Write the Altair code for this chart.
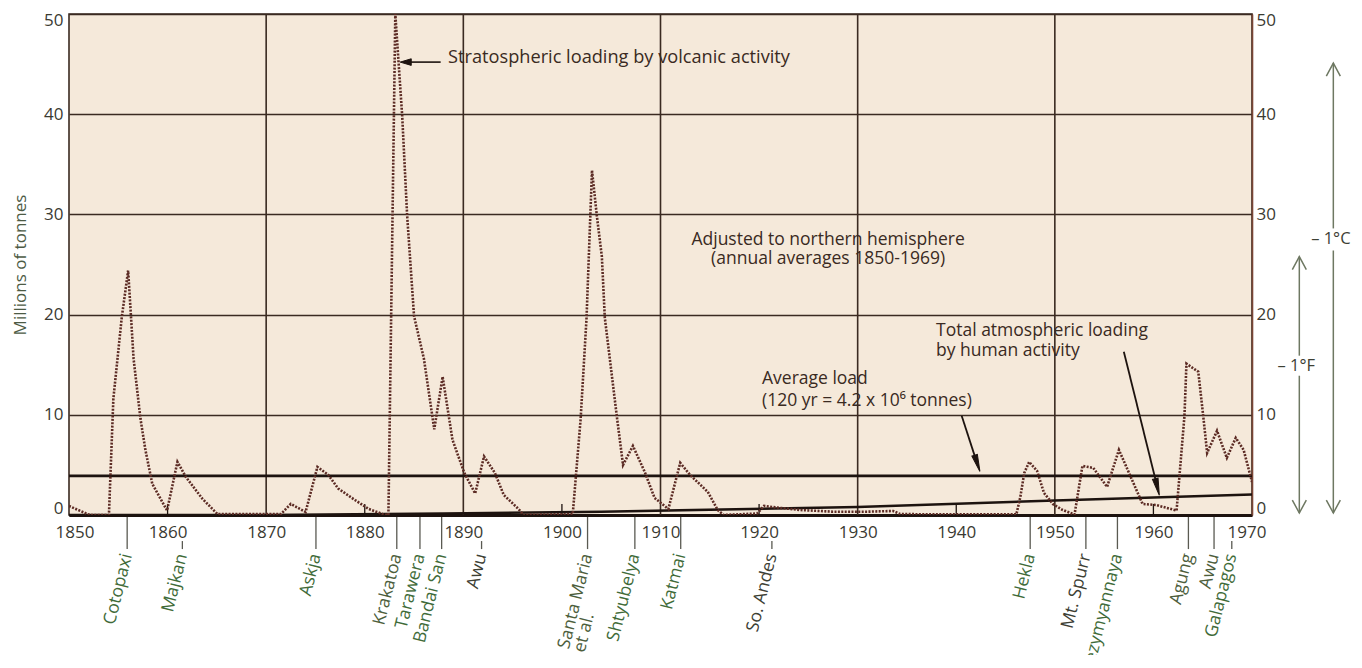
import math
import altair as alt
import pandas as pd

# ---------------- data ----------------
vol_years = [1850.0, 1852.1, 1854.05, 1854.5, 1855.35, 1856.0, 1856.55, 1857.25, 1857.75, 1858.45,
             1859.95, 1861.0, 1861.85, 1863.55, 1865.05, 1871.5, 1872.5, 1874.0, 1875.2, 1876.3,
             1877.3, 1879.0, 1880.4, 1881.8, 1882.4, 1883.1, 1883.8, 1884.3, 1885.0, 1886.0,
             1887.05, 1887.9, 1888.9, 1890.1, 1891.2, 1892.1, 1893.2, 1894.1, 1895.6, 1896.1,
             1901.1, 1901.9, 1902.5, 1903.05, 1903.55, 1904.05, 1904.35, 1905.6, 1906.2, 1907.2,
             1908.4, 1909.4, 1910.8, 1912.0, 1913.0, 1914.8, 1915.8, 1916.4, 1919.8, 1920.5,
             1922.2, 1924.2, 1927.5, 1930.9, 1933.6, 1934.3, 1937.7, 1946.1, 1946.5, 1946.9,
             1947.4, 1948.2, 1948.9, 1949.8, 1950.8, 1952.0, 1952.8, 1953.9, 1955.3, 1956.5,
             1957.7, 1958.9, 1960.25, 1962.35, 1963.15, 1963.35, 1964.55, 1965.05, 1965.45, 1966.45,
             1967.45, 1968.35, 1969.15, 1970.0]
vol_values = [0.9, 0.0, 0.0, 11.6, 19.7, 24.4, 15.6, 9.6, 6.5, 3.1,
              0.45, 5.3, 3.8, 1.6, 0.1, 0.1, 1.1, 0.3, 4.8, 4.0,
              2.65, 1.5, 0.6, 0.1, 0.0, 50.0, 39.8, 29.9, 19.85, 15.6,
              8.55, 13.8, 7.5, 4.2, 2.15, 5.85, 4.2, 2.0, 0.6, 0.0,
              0.1, 9.6, 19.7, 34.4, 29.8, 25.8, 19.7, 9.6, 5.0, 6.9,
              4.3, 1.7, 0.6, 5.2, 4.0, 2.3, 0.5, 0.0, 0.15, 0.9,
              0.7, 0.5, 0.33, 0.33, 0.4, 0.1, 0.06, 0.06, 1.8, 4.2,
              5.3, 4.4, 2.2, 1.1, 0.5, 0.05, 4.9, 4.7, 2.8, 6.5,
              3.8, 1.1, 1.0, 0.45, 9.9, 15.1, 14.3, 9.9, 6.2, 8.4,
              5.7, 7.7, 6.5, 3.3]

human_years = [1850, 1870, 1888, 1904, 1930, 1950, 1970]
human_values = [0.0, 0.0, 0.15, 0.33, 0.8, 1.45, 2.05]

average_load = 3.9

decades = [1850, 1860, 1870, 1880, 1890, 1900, 1910, 1920, 1930, 1940, 1950, 1960, 1970]
grid_years = [1870, 1890, 1910, 1930, 1950]
minor_tick_years = [1860, 1880, 1900, 1920, 1940, 1960]
y_ticks = [0, 10, 20, 30, 40, 50]

volcano_names = ["Cotopaxi", "Majkan", "Askja", "Krakatoa", "Tarawera", "Bandai San", "Awu",
                 "Santa Maria", "Shtyubelya", "Katmai", "So. Andes", "Hekla", "Mt. Spurr",
                 "Bezymyannaya", "Agung", "Awu", "Galapagos"]
volcano_years = [1855.9, 1861.5, 1875.05, 1883.25, 1885.6, 1887.8, 1891.85,
                 1902.6, 1907.4, 1912.05, 1921.3, 1947.5, 1953.15,
                 1956.35, 1963.55, 1966.15, 1967.95]

# ---------------- style ----------------
FONT = "Open Sans"
BG = "#f5e9da"
GRID = "#3a2a21"
INK = "#1d130f"
VOLC = "#5c2b24"
AXLAB = "#3a3a32"
GREEN = "#3f6b39"
DARK = "#3d4034"
OLIVE = "#4d5e3c"
NOTE = "#3a2a22"
ARROWC = "#6e7862"
TITLEC = "#4d5b45"
TICKC = "#5a5a52"

W, H = 1183, 501
X0, X1 = 1850, 1970
Y0, Y1 = 0, 50
PXX = W / (X1 - X0)
PXY = H / (Y1 - Y0)

xs = alt.Scale(domain=[X0, X1], nice=False, zero=False)
ys = alt.Scale(domain=[Y0, Y1], nice=False, zero=False)
ONE = pd.DataFrame({"k": [0]})


def xd(v):
    return alt.XDatum(v, type="quantitative", scale=xs, axis=None)


def yd(v):
    return alt.YDatum(v, type="quantitative", scale=ys, axis=None)


def note(text, x, y, align="left", size=17.5, color=NOTE, **kw):
    return alt.Chart(ONE).mark_text(
        text=text, align=align, baseline="middle", font=FONT, fontSize=size, color=color, **kw
    ).encode(x=xd(x), y=yd(y))


def seg(xa, ya, xb, yb, color, width):
    return alt.Chart(ONE).mark_rule(color=color, strokeWidth=width).encode(
        x=xd(xa), y=yd(ya), x2=alt.X2Datum(xb), y2=alt.Y2Datum(yb)
    )


def head(xa, ya, xb, yb, path, size, color, filled=True, width=1.0):
    dx = (xb - xa) * PXX
    dy = -(yb - ya) * PXY
    ang = math.degrees(math.atan2(dx, -dy)) % 360
    kw = dict(fill=color) if filled else dict(fill="transparent")
    return alt.Chart(ONE).mark_point(
        shape=path, size=size, angle=ang, filled=filled, stroke=color,
        strokeWidth=width, opacity=1, **kw
    ).encode(x=xd(xb), y=yd(yb))


# ---------------- frames ----------------
vol_df = pd.DataFrame({"year": vol_years, "v": vol_values})
hum_df = pd.DataFrame({"year": human_years, "v": human_values})
grid_df = pd.DataFrame({"year": grid_years})
minor_df = pd.DataFrame({"year": minor_tick_years})
avg_df = pd.DataFrame({"v": [average_load]})

half = 20 / PXX
centers = list(decades)
centers[0] = X0 + 6 / PXX
centers[-1] = X1 - 6 / PXX
under = [any(abs(yv - c) < half for c in centers) for yv in volcano_years]
dark_idx = {6, 10, 12}
olive_idx = {3, 7, 14, 15}
colors = [DARK if i in dark_idx else (OLIVE if i in olive_idx else GREEN)
          for i in range(len(volcano_names))]
vdf = pd.DataFrame({
    "name": volcano_names,
    "year": volcano_years,
    "top": [-2.6 if u else -0.2 for u in under],
    "color": colors,
})

# ---------------- layers ----------------
x_axis = alt.Axis(values=decades, format="d", title=None, labelFont=FONT, labelFontSize=17,
                  labelColor=AXLAB, domainColor=INK, domainWidth=3, ticks=False,
                  labelPadding=9, labelFlush=True, labelFlushOffset=14, grid=False)
left_axis = alt.Axis(values=y_ticks, title="Millions of tonnes", titleFont=FONT, titleFontSize=17,
                     titleFontWeight="normal", titleColor=TITLEC, titlePadding=14,
                     labelFont=FONT, labelFontSize=17, labelColor=AXLAB, labelPadding=6,
                     labelFlush=True, labelFlushOffset=2, ticks=False, domain=False,
                     grid=True, gridColor=GRID, gridWidth=1.6)
right_axis = alt.Axis(orient="right", values=y_ticks, title=None, labelFont=FONT, labelFontSize=17,
                      labelColor=AXLAB, labelPadding=4, labelFlush=True, labelFlushOffset=2,
                      ticks=False, domain=True, domainColor="#7a4535", domainWidth=1.6, grid=False)

vgrid = alt.Chart(grid_df).mark_rule(color=GRID, strokeWidth=1.6).encode(
    x=alt.X("year:Q", scale=xs, axis=None))

minor = alt.Chart(minor_df).mark_rule(color=INK, strokeWidth=1.3).encode(
    x=alt.X("year:Q", scale=xs, axis=None), y=yd(0), y2=alt.Y2Datum(1.1))

avg = alt.Chart(avg_df).mark_rule(color=INK, strokeWidth=2.6).encode(
    y=alt.Y("v:Q", scale=ys, axis=None))

human = alt.Chart(hum_df).mark_line(color=INK, strokeWidth=2.6).encode(
    x=alt.X("year:Q", scale=xs, axis=None), y=alt.Y("v:Q", scale=ys, axis=right_axis))

vol = alt.Chart(vol_df).mark_line(color=VOLC, strokeWidth=2.6, strokeDash=[2, 1.4],
                                  strokeCap="butt", clip=True).encode(
    x=alt.X("year:Q", scale=xs, axis=x_axis), y=alt.Y("v:Q", scale=ys, axis=left_axis))

ticks = alt.Chart(vdf).mark_rule(color=TICKC, strokeWidth=1.3).encode(
    x=alt.X("year:Q", scale=xs, axis=None),
    y=alt.Y("top:Q", scale=ys, axis=None),
    y2=alt.Y2Datum(-3.4))

vlabels = alt.Chart(vdf).mark_text(angle=284, align="right", baseline="middle", font=FONT,
                                   fontSize=17.5).encode(
    x=alt.X("year:Q", scale=xs, axis=None), y=yd(-3.9),
    text="name:N", color=alt.Color("color:N", scale=None))

santa = volcano_years[volcano_names.index("Santa Maria")]
etal = note("et al.", santa, -3.9, align="left", size=17.5, color=OLIVE, angle=284, dx=-97, dy=16)

SHARP = "M0,0 L-0.3,1 L0.3,1 Z"
LONG = "M0,0 L-0.17,1 L0.17,1 Z"
CHEV_UP = "M-1,1.85 L0,0 L1,1.85"

layers = [
    vgrid, minor, avg, human, vol, ticks, vlabels, etal,
    # stratospheric note
    note("Stratospheric loading by volcanic activity", 1888.45, 45.6, size=18.2),
    seg(1887.7, 45.2, 1884.6, 45.2, INK, 1.6),
    head(1887.7, 45.2, 1883.6, 45.2, SHARP, 484, INK),
    # hemisphere note
    note("Adjusted to northern hemisphere", 1927.0, 27.45, align="center"),
    note("(annual averages 1850-1969)", 1927.0, 25.5, align="center"),
    # average load
    note("Average load", 1920.3, 13.6),
    note("(120 yr = 4.2 x 10\u2076 tonnes)", 1920.3, 11.4),
    seg(1940.55, 9.9, 1942.2, 4.9, INK, 1.8),
    head(1940.55, 9.9, 1942.4, 4.35, LONG, 1156, INK),
    # human loading
    note("Total atmospheric loading", 1937.95, 18.4),
    note("by human activity", 1937.95, 16.35),
    seg(1957.0, 16.3, 1960.45, 2.6, INK, 1.8),
    head(1957.0, 16.3, 1960.6, 1.97, LONG, 1156, INK),
    # temperature arrows on the right
    seg(1978.25, 45.1, 1978.25, 28.6, ARROWC, 1.5),
    seg(1978.25, 26.4, 1978.25, 0.2, ARROWC, 1.5),
    head(1978.25, 0.2, 1978.25, 45.1, CHEV_UP, 196, ARROWC, filled=False, width=1.5),
    head(1978.25, 45.1, 1978.25, 0.2, CHEV_UP, 196, ARROWC, filled=False, width=1.5),
    note("\u2013 1\u00b0C", 1978.0, 27.5, align="center", size=16.5, color=DARK),
    seg(1974.8, 25.78, 1974.8, 15.9, ARROWC, 1.5),
    seg(1974.8, 13.9, 1974.8, 0.2, ARROWC, 1.5),
    head(1974.8, 0.2, 1974.8, 25.78, CHEV_UP, 196, ARROWC, filled=False, width=1.5),
    head(1974.8, 25.78, 1974.8, 0.2, CHEV_UP, 196, ARROWC, filled=False, width=1.5),
    note("\u2013 1\u00b0F", 1974.5, 14.9, align="center", size=16.5, color=DARK),
]

chart = (
    alt.layer(*layers)
    .resolve_axis(x="independent", y="independent")
    .properties(
        width=W,
        height=H,
        autosize=alt.AutoSizeParams(type="none"),
        padding={"left": 61, "top": 6, "right": 100, "bottom": 140},
    )
    .configure(font=FONT)
    .configure_view(fill=BG, stroke=GRID, strokeWidth=1.6)
)

chart.save("out.html", embed_options={"renderer": "svg", "actions": False})
